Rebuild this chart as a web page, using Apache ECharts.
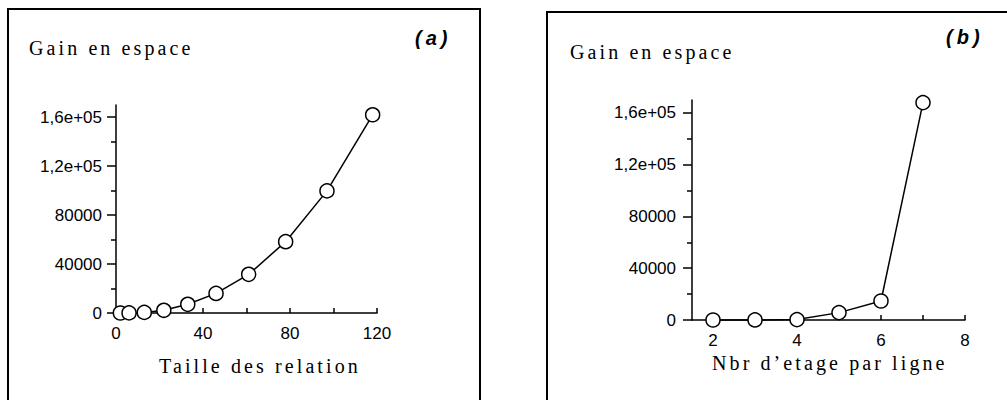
<!DOCTYPE html>
<html><head><meta charset="utf-8">
<script src="https://cdn.jsdelivr.net/npm/echarts@6/dist/echarts.min.js"></script>
<style>html,body{margin:0;padding:0;background:#fff}#c{width:1007px;height:400px}</style>
</head><body><div id="c"></div>
<script>
// ---- data ----
const sizeA = [2, 6, 13, 22, 33, 46, 61, 78, 97, 118];
const gainA = [0, 100, 500, 2200, 7100, 16000, 31600, 58300, 99800, 162000];
const etagesB = [2, 3, 4, 5, 6, 7];
const gainB = [0, 50, 300, 5700, 14700, 168000];
const yMajorTicks = [0, 40000, 80000, 120000, 160000];
const yMinorTicks = [20000, 60000, 100000, 140000];
const xTicksA = [0, 20, 40, 60, 80, 100, 120];
const xLabelsA = [0, 40, 80, 120];
const xTicksB = [2, 3, 4, 5, 6, 7, 8];
const xLabelsB = [2, 4, 6, 8];
const titleY = 'Gain en espace';
const xNameA = 'Taille des relation';
const xNameB = 'Nbr d\u2019etage par ligne';
const panelTags = ['(a)', '(b)'];

const SANS = '"Liberation Sans", Arial, sans-serif';
const SERIF = '"Liberation Serif", "Times New Roman", serif';
const black = '#000';

function yFmt(v) {
  if (v >= 100000) return (v / 100000).toFixed(1).replace('.', ',') + 'e+05';
  return String(v);
}
const pairsA = sizeA.map((x, i) => [x, gainA[i]]);
const pairsB = etagesB.map((x, i) => [x, gainB[i]]);

function xAxis(gi, min, max, ticks, labels, margin) {
  return {
    gridIndex: gi, type: 'value', min: min, max: max,
    axisLine: { show: true, onZero: false, lineStyle: { color: black, width: 1.5 } },
    axisTick: { show: true, inside: true, length: 5, customValues: ticks, lineStyle: { color: black, width: 1.5 } },
    axisLabel: { customValues: labels, margin: margin, color: black, fontSize: 17, fontFamily: SANS },
    splitLine: { show: false }
  };
}
function yAxisMajor(gi, margin, len) {
  return {
    gridIndex: gi, type: 'value', min: 0, max: 170000, position: 'left',
    axisLine: { show: true, onZero: false, lineStyle: { color: black, width: 1.5 } },
    axisTick: { show: true, length: len, customValues: yMajorTicks, lineStyle: { color: black, width: 1.5 } },
    axisLabel: { customValues: yMajorTicks, formatter: yFmt, margin: margin, color: black, fontSize: 17, fontFamily: SANS },
    splitLine: { show: false }
  };
}
function yAxisMinor(gi, len) {
  return {
    gridIndex: gi, type: 'value', min: 0, max: 170000, position: 'left',
    axisLine: { show: false, onZero: false },
    axisTick: { show: true, length: len, customValues: yMinorTicks, lineStyle: { color: black, width: 1.5 } },
    axisLabel: { show: false },
    splitLine: { show: false }
  };
}
function series(xi, yi, data) {
  return {
    type: 'line', xAxisIndex: xi, yAxisIndex: yi, data: data, clip: false,
    symbol: 'circle', symbolSize: 14,
    lineStyle: { color: black, width: 1.5 },
    itemStyle: { color: '#fff', borderColor: black, borderWidth: 1.5 },
    emphasis: { disabled: true }, z: 3
  };
}
function txt(x, y, text, font, align) {
  return { type: 'text', x: x, y: y, silent: true,
    style: { text: text, font: font, fill: black, textAlign: align || 'left', textVerticalAlign: 'middle', align: align || 'left', verticalAlign: 'middle' } };
}

const option = {
  animation: false,
  backgroundColor: '#fff',
  grid: [
    { left: 116, top: 105, width: 261, height: 208 },
    { left: 692, top: 100, width: 273, height: 220 }
  ],
  xAxis: [
    xAxis(0, 0, 120, xTicksA, xLabelsA, 12),
    xAxis(1, 1.5, 8, xTicksB, xLabelsB, 12)
  ],
  yAxis: [
    yAxisMajor(0, 14, 9), yAxisMinor(0, 5),
    yAxisMajor(1, 16, 9), yAxisMinor(1, 5)
  ],
  series: [series(0, 0, pairsA), series(1, 2, pairsB)],
  graphic: [
    { type: 'rect', silent: true, shape: { x: 8, y: 9, width: 472, height: 420 }, style: { fill: 'none', stroke: black, lineWidth: 2 } },
    { type: 'rect', silent: true, shape: { x: 547, y: 12, width: 480, height: 420 }, style: { fill: 'none', stroke: black, lineWidth: 2 } },
    txt(29, 48, titleY, '20px ' + SERIF),
    txt(570, 52, titleY, '20px ' + SERIF),
    txt(415, 38, panelTags[0], 'italic bold 20px ' + SANS),
    txt(946, 37, panelTags[1], 'italic bold 20px ' + SANS),
    txt(159, 366, xNameA, '20px ' + SERIF),
    txt(712, 363, xNameB, '20px ' + SERIF)
  ]
};

const chart = echarts.init(document.getElementById('c'), null, { renderer: 'svg' });
chart.setOption(option);
const spacing = {};
spacing[titleY] = 3.1; spacing[xNameA] = 3.1; spacing[xNameB] = 3.1;
spacing[panelTags[0]] = 4; spacing[panelTags[1]] = 4;
function applySpacing() {
  document.querySelectorAll('#c text').forEach(function (t) {
    const s = t.textContent;
    if (spacing[s] != null) t.style.letterSpacing = spacing[s] + 'px';
  });
}
applySpacing();
chart.on('finished', applySpacing);
</script></body></html>
